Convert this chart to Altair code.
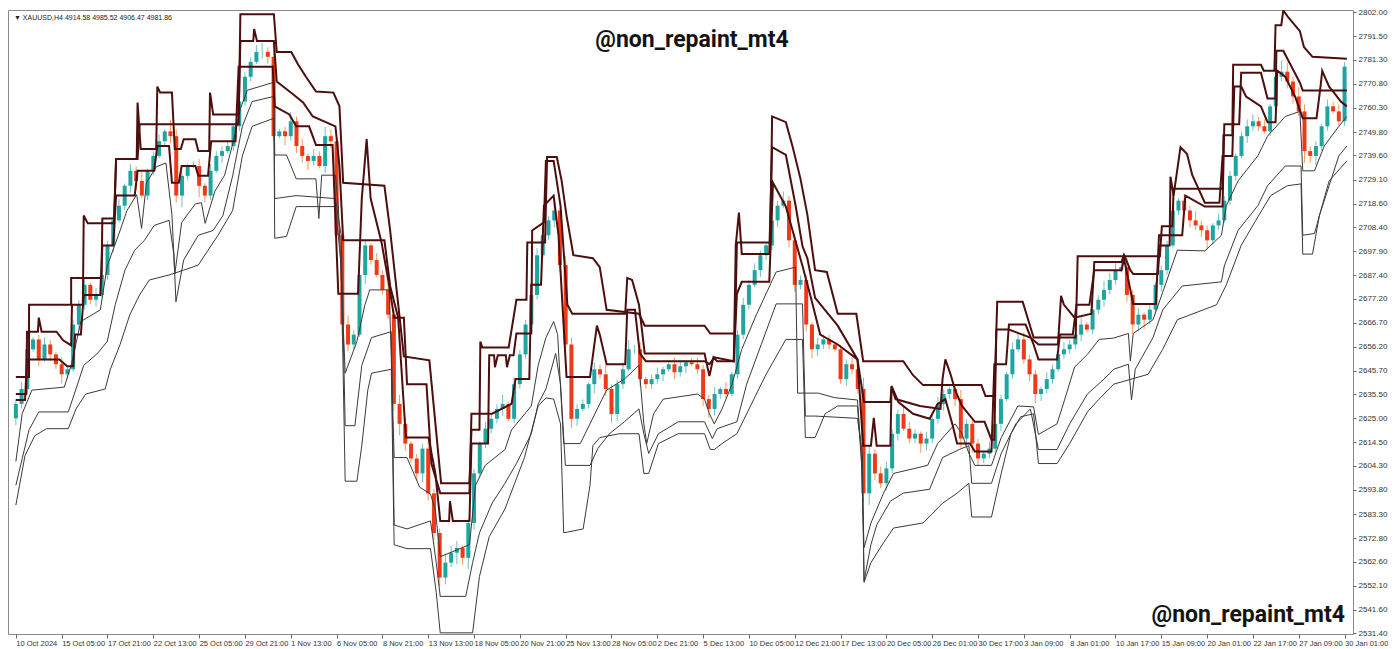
import altair as alt
import pandas as pd

# ---------------- data ----------------
first_open = 2625.0
closes = [
    2631.3, 2637.8, 2655.1, 2659.4, 2650.7, 2657.2, 2652.9, 2648.6,
    2644.2, 2646.4, 2665.9, 2674.5, 2683.2, 2676.7, 2678.8, 2687.5,
    2700.4, 2711.3, 2717.7, 2726.4, 2732.9, 2728.5, 2722.1, 2732.9,
    2739.4, 2745.8, 2750.1, 2748.0, 2722.1, 2730.7, 2735.0, 2735.0,
    2726.4, 2722.1, 2732.9, 2739.4, 2741.5, 2743.7, 2752.3, 2763.1,
    2773.9, 2780.4, 2784.7, 2784.7, 2782.6, 2748.0, 2750.1, 2748.0,
    2754.5, 2743.7, 2739.4, 2737.2, 2739.4, 2735.0, 2748.0, 2745.8,
    2704.8, 2665.9, 2657.2, 2661.5, 2687.5, 2700.4, 2694.0, 2687.5,
    2681.0, 2670.2, 2631.3, 2622.6, 2614.0, 2607.5, 2601.0, 2611.8,
    2592.3, 2575.0, 2555.6, 2562.1, 2566.4, 2568.5, 2564.2, 2579.4,
    2601.0, 2614.0, 2620.5, 2624.8, 2629.1, 2631.3, 2624.8, 2639.9,
    2652.9, 2665.9, 2678.8, 2696.1, 2704.8, 2711.3, 2715.6, 2691.8,
    2657.2, 2624.8, 2629.1, 2631.3, 2639.9, 2646.4, 2644.2, 2637.8,
    2626.9, 2639.9, 2646.4, 2655.1, 2655.1, 2642.1, 2639.9, 2642.1,
    2644.2, 2646.4, 2648.6, 2645.1, 2647.7, 2649.4, 2648.6, 2646.4,
    2633.4, 2629.1, 2635.6, 2637.8, 2635.6, 2644.2, 2661.5, 2674.5,
    2683.2, 2689.6, 2696.1, 2700.4, 2711.3, 2717.7, 2719.9, 2702.6,
    2683.2, 2685.3, 2665.9, 2655.1, 2657.2, 2659.4, 2657.2, 2655.1,
    2642.1, 2648.6, 2646.4, 2637.8, 2592.3, 2609.6, 2601.0, 2596.7,
    2603.2, 2618.3, 2626.9, 2620.5, 2616.2, 2618.3, 2614.0, 2616.2,
    2624.8, 2631.3, 2635.6, 2637.8, 2633.4, 2616.2, 2622.6, 2614.0,
    2607.5, 2609.6, 2611.8, 2622.6, 2633.4, 2644.2, 2655.1, 2659.4,
    2650.7, 2644.2, 2635.6, 2637.8, 2642.1, 2646.4, 2652.9, 2655.1,
    2657.2, 2661.5, 2665.9, 2663.7, 2672.4, 2676.7, 2681.0, 2685.3,
    2689.6, 2690.9, 2678.8, 2665.9, 2670.2, 2668.0, 2672.4, 2683.2,
    2689.6, 2700.4, 2715.6, 2719.9, 2715.6, 2711.3, 2709.1, 2707.0,
    2702.6, 2709.1, 2711.3, 2719.9, 2730.7, 2739.4, 2748.0, 2752.3,
    2754.5, 2752.3, 2750.1, 2761.0, 2773.9, 2776.1, 2771.8, 2765.3,
    2758.8, 2741.5, 2739.4, 2743.7, 2752.3, 2761.0, 2758.8, 2754.5,
    2778.3,
]
wick_up = ("23312321" "31223132" "22313241" "23153212" "31322213" "22342512"
           "42313243" "32423213" "23243122" "32243312" "21322413" "22133241"
           "43221324" "22342312" "31232123" "22313123" "23213242" "32213221"
           "22315323" "32243213" "23212422" "21322133" "32213223" "22312243"
           "32423121" "22313242" "21322123" "32312542" "43221323" "2")
wick_dn = ("32213132" "42132231" "23123412" "21233521" "53213122" "22133214"
           "23342133" "25321421" "22353234" "33432535" "32222312" "22121233"
           "24312423" "43212322" "23132312" "34322122" "21322313" "32343221"
           "23224532" "32312243" "22323434" "32223121" "23432212" "22312232"
           "21343422" "32122323" "42212213" "22123233" "25342212" "2")

# indicator lines: (bar index, price)
u1 = [(0,2643.0),(4.6,2643.0),(4.6,2674.5),(19.3,2674.5),(19.3,2686.2),(29.9,2686.2),(30.2,2712.1),(34.3,2712.1),
      (35.0,2738.1),(42.5,2738.1),(43.2,2753.2),(77.8,2753.2),(78.4,2801.2),(90.1,2801.2),(91.1,2784.7),(96.2,2784.7),
      (98.6,2779.1),(101.3,2773.9),(104.8,2767.5),(110.9,2767.0),(113.0,2761.0),(114.3,2727.7),(128.7,2726.4),
      (130.7,2706.9),(135.5,2652.0),(144.4,2650.3),(148.5,2596.7),(158.4,2596.7),(159.1,2620.0),(161.9,2620.0),
      (162.2,2658.5),(162.9,2655.9),(172.1,2655.9),(174.8,2676.7),(178.3,2676.7),(178.6,2701.7),(184.8,2701.7),
      (185.5,2738.9),(188.9,2738.9),(190.6,2728.5),(192.3,2713.4),(194.7,2696.1),(201.5,2694.8),(203.9,2690.9),
      (206.3,2672.3),(217.6,2670.6),(219.6,2665.4),(240.5,2665.4),(242.5,2662.0),(251.1,2662.0),(251.8,2701.7),
      (263.4,2701.7),(264.1,2756.6),(268.9,2754.1),(271.3,2743.2),(274.0,2729.4),(276.4,2713.8),(279.1,2689.6),
      (283.2,2688.8),(287.0,2670.6),(293.5,2670.6),(295.9,2649.9),(309.9,2649.9),(313.3,2643.8),(316.8,2639.5),
      (337.2,2639.5),(338.6,2634.7),(341.7,2634.7),(342.7,2675.8),(351.6,2675.8),(355.4,2660.2),(370.1,2660.2),
      (370.8,2695.7),(399.5,2695.7),(400.2,2708.7),(403.9,2708.7),(404.3,2725.1),(421.4,2725.1),(421.7,2748.4),
      (424.8,2748.4),(425.1,2779.1),(434.8,2779.1),(435.8,2776.5),(439.5,2776.5),(439.9,2796.4),(441.9,2796.4),
      (442.6,2802.8),(444.3,2799.9),(448.4,2793.8),(449.8,2786.9),(452.8,2782.6),(464.8,2781.7)]
u2 = [(0,2635.6),(3.6,2635.6),(3.9,2662.8),(7.7,2662.8),(8.0,2668.9),(9.0,2662.8),(14.2,2662.8),(16.5,2659.0),
      (19.3,2656.8),(19.6,2674.5),(23.4,2674.5),(23.7,2713.4),(25.1,2710.0),(34.3,2710.0),(35.0,2738.1),(42.2,2738.1),
      (42.5,2762.7),(43.6,2742.4),(49.0,2742.4),(49.4,2769.6),(50.4,2767.0),(54.5,2767.0),(55.5,2742.4),(57.6,2742.4),
      (58.6,2746.7),(62.7,2746.7),(63.7,2741.5),(67.5,2741.5),(67.8,2767.0),(68.9,2757.5),(77.8,2757.5),(78.4,2789.5),
      (82.9,2789.5),(83.2,2794.7),(84.2,2789.5),(90.1,2789.5),(91.1,2771.8),(96.9,2766.2),(100.3,2762.7),
      (103.7,2756.6),(111.6,2752.3),(113.0,2735.0),(114.3,2702.6),(128.7,2702.6),(130.7,2682.7),(133.5,2668.9),
      (136.2,2616.6),(144.1,2616.6),(146.5,2601.0),(148.2,2580.3),(151.3,2580.3),(151.6,2588.9),(152.6,2580.3),
      (158.4,2580.3),(159.1,2614.0),(164.9,2614.0),(165.3,2652.5),(167.0,2652.5),(167.3,2647.3),(168.3,2652.5),
      (171.1,2652.5),(171.5,2647.3),(172.5,2652.5),(173.8,2652.5),(174.8,2662.0),(180.0,2662.0),(180.3,2706.9),
      (184.4,2710.4),(185.1,2737.2),(187.8,2737.2),(190.2,2717.7),(192.6,2674.5),(194.3,2670.6),(212.8,2670.6),
      (213.5,2686.2),(215.2,2685.3),(217.6,2674.5),(219.6,2653.3),(240.5,2653.3),(242.2,2643.4),(243.6,2651.6),
      (244.9,2649.9),(250.7,2649.9),(251.4,2700.4),(252.5,2714.7),(253.5,2696.6),(263.1,2696.6),(264.1,2743.2),
      (268.9,2739.8),(272.3,2717.7),(274.7,2700.0),(276.4,2694.8),(279.1,2677.5),(287.0,2665.4),(293.9,2650.7),
      (296.2,2632.1),(305.4,2632.1),(305.8,2638.6),(307.2,2633.4),(315.7,2630.4),(322.9,2629.1),(323.6,2642.1),
      (324.6,2650.7),(326.4,2644.2),(328.0,2637.3),(330.4,2630.4),(334.9,2623.5),(338.3,2623.5),(340.7,2615.7),
      (341.7,2615.7),(342.4,2663.7),(346.8,2663.7),(354.3,2660.2),(357.1,2657.2),(363.9,2657.2),(365.0,2678.4),
      (366.0,2674.5),(369.7,2668.9),(375.6,2670.6),(376.6,2693.1),(386.1,2693.1),(386.8,2695.7),(388.5,2685.3),
      (390.2,2674.9),(398.1,2674.9),(399.2,2704.8),(407.3,2704.8),(408.4,2722.1),(415.2,2717.3),(421.4,2717.3),
      (422.0,2753.2),(427.2,2753.2),(427.9,2775.7),(434.8,2775.7),(437.1,2764.4),(439.9,2764.4),(440.2,2785.2),
      (442.6,2785.2),(448.4,2771.3),(449.4,2767.9),(464.8,2767.9)]
u3 = [(0,2633.0),(3.2,2633.0),(3.9,2650.7),(15.2,2650.7),(17.9,2647.7),(20.0,2647.7),(20.7,2661.5),(22.7,2661.5),
      (23.7,2678.8),(29.5,2678.8),(30.2,2700.4),(34.0,2700.4),(35.0,2722.1),(41.5,2722.1),(42.5,2732.9),(48.3,2732.9),
      (49.4,2743.7),(53.5,2743.7),(54.5,2727.7),(56.9,2727.7),(57.9,2735.0),(62.7,2735.0),(63.7,2730.7),(67.1,2730.7),
      (68.2,2745.8),(76.7,2745.8),(77.8,2778.3),(89.7,2778.3),(90.4,2761.0),(95.5,2757.5),(97.9,2752.3),(102.4,2752.3),
      (104.8,2744.1),(110.6,2744.1),(112.6,2679.3),(119.5,2679.3),(120.8,2720.8),(122.5,2746.7),(123.9,2720.8),
      (127.7,2701.7),(130.4,2682.7),(132.1,2668.9),(135.5,2668.9),(136.6,2639.9),(143.4,2639.9),(145.1,2605.3),
      (148.2,2592.4),(158.4,2592.4),(159.1,2627.0),(166.3,2627.0),(173.1,2631.3),(174.5,2642.1),(179.3,2642.1),
      (180.0,2683.2),(183.4,2683.2),(184.4,2717.7),(187.8,2722.1),(189.5,2704.8),(192.3,2643.0),(200.5,2643.0),
      (202.9,2665.4),(203.9,2661.5),(206.3,2648.6),(212.8,2648.6),(213.5,2672.3),(216.2,2672.3),(217.9,2653.3),
      (220.0,2649.9),(240.5,2649.9),(242.2,2648.6),(243.9,2651.6),(250.7,2649.9),(251.8,2679.3),(253.5,2684.5),
      (263.1,2684.5),(264.4,2727.7),(268.9,2717.3),(274.7,2691.4),(277.4,2678.8),(280.9,2661.5),(287.0,2657.2),
      (293.9,2650.7),(295.9,2613.1),(298.6,2613.1),(299.6,2625.2),(300.6,2613.1),(305.4,2613.1),(305.8,2639.1),
      (308.2,2632.1),(313.3,2627.0),(319.1,2624.8),(321.9,2631.3),(324.6,2633.4),(327.0,2622.6),(328.7,2614.0),
      (333.2,2614.0),(334.9,2610.5),(340.7,2610.5),(341.7,2648.6),(345.8,2648.6),(346.8,2665.9),(352.6,2665.9),
      (355.4,2657.2),(357.1,2650.7),(363.6,2650.7),(364.6,2661.5),(369.1,2661.5),(370.4,2674.5),(374.9,2674.5),
      (376.6,2689.6),(386.1,2689.6),(387.2,2695.7),(389.2,2689.6),(390.2,2687.9),(398.8,2687.9),(399.5,2700.4),
      (402.9,2700.4),(403.2,2730.3),(404.3,2722.1),(406.7,2743.2),(409.0,2740.2),(410.8,2731.1),(415.2,2719.0),
      (420.3,2719.0),(421.4,2739.4),(424.8,2739.4),(425.5,2769.6),(427.9,2769.6),(429.6,2765.3),(434.8,2761.0),
      (437.1,2754.1),(439.9,2754.1),(440.5,2776.5),(443.3,2773.9),(446.7,2765.3),(449.4,2755.8),(454.2,2755.8),
      (455.6,2769.6),(456.2,2776.5),(458.6,2769.6),(460.3,2767.0),(462.7,2763.1),(464.8,2761.0)]
l1 = [(0,2606.2),(2.2,2627.0),(5.6,2637.3),(16.9,2638.6),(19.3,2648.1),(22.7,2667.2),(29.5,2672.3),(31.9,2691.4),
      (36.4,2706.9),(38.8,2715.6),(42.2,2722.5),(43.9,2707.8),(45.6,2727.7),(49.0,2734.6),(52.4,2736.3),(54.5,2713.8),
      (55.5,2687.9),(57.9,2710.4),(62.7,2718.5),(64.8,2719.0),(66.1,2710.0),(69.5,2724.0),(72.9,2731.0),(76.4,2748.0),
      (78.4,2760.0),(80.8,2768.0),(90.1,2771.5),(90.4,2739.8),(94.5,2739.8),(97.9,2729.4),(104.8,2729.4),(105.8,2712.1),
      (106.8,2731.0),(111.6,2731.0),(112.6,2717.7),(115.0,2644.7),(119.1,2658.5),(121.9,2674.5),(123.6,2681.0),
      (130.4,2681.0),(132.1,2607.9),(136.6,2607.9),(141.0,2595.0),(144.8,2592.0),(146.5,2585.0),(148.2,2564.7),
      (158.4,2569.9),(160.5,2595.8),(163.9,2604.5),(170.8,2611.4),(173.1,2620.0),(180.0,2630.4),(182.4,2648.1),
      (185.1,2660.2),(187.8,2667.2),(189.2,2661.5),(191.3,2614.0),(197.1,2614.0),(200.5,2622.6),(203.9,2631.3),
      (206.3,2637.3),(212.5,2642.1),(217.6,2648.1),(219.3,2622.6),(220.3,2614.0),(222.7,2627.0),(226.1,2633.4),
      (238.1,2635.6),(240.5,2633.4),(242.2,2627.0),(243.9,2622.6),(246.6,2629.1),(250.1,2639.9),(253.5,2655.1),
      (258.6,2670.2),(265.5,2688.8),(272.3,2690.9),(273.0,2636.0),(280.2,2636.0),(286.0,2634.0),(293.9,2633.0),
      (295.2,2610.0),(296.2,2568.6),(298.6,2579.4),(303.0,2592.4),(306.5,2601.0),(318.4,2604.5),(321.9,2614.0),
      (328.0,2622.6),(330.4,2618.3),(332.8,2609.7),(334.9,2604.5),(340.7,2604.5),(344.1,2616.6),(349.9,2630.4),
      (355.4,2630.0),(357.1,2618.0),(363.6,2622.6),(366.3,2633.4),(369.7,2647.3),(374.2,2652.9),(378.3,2659.4),
      (383.4,2660.0),(388.5,2662.0),(389.2,2650.0),(390.2,2662.0),(397.1,2668.0),(400.5,2680.0),(405.6,2698.3),
      (415.2,2698.0),(421.0,2704.8),(422.7,2717.7),(426.8,2728.5),(433.7,2739.4),(437.1,2748.0),(443.3,2756.6),
      (448.4,2758.8),(449.4,2732.9),(453.5,2732.9),(456.9,2743.7),(462.0,2752.3),(464.8,2756.6)]
l2 = [(0,2595.8),(4.6,2620.0),(8.0,2627.8),(18.3,2627.8),(21.0,2637.8),(23.7,2648.1),(28.5,2653.3),(31.9,2658.5),
      (34.7,2674.5),(38.1,2689.6),(41.5,2698.3),(44.9,2702.6),(48.3,2709.1),(53.5,2711.3),(55.2,2696.1),(55.9,2675.8),
      (58.6,2694.0),(63.7,2704.8),(68.9,2706.9),(72.3,2713.4),(75.7,2730.7),(79.1,2752.3),(82.5,2763.1),(90.1,2765.3),
      (90.4,2720.8),(97.9,2722.1),(111.6,2720.8),(113.6,2704.8),(115.0,2621.8),(118.4,2621.8),(120.8,2648.1),
      (124.2,2660.2),(131.1,2662.8),(132.1,2578.5),(136.6,2576.8),(144.8,2580.3),(146.8,2562.1),(148.2,2547.4),
      (157.1,2547.4),(159.5,2562.1),(161.9,2575.1),(166.3,2588.0),(170.8,2596.7),(174.8,2605.3),(180.0,2618.3),
      (182.4,2631.3),(185.1,2637.8),(188.5,2653.3),(190.2,2639.9),(191.9,2604.5),(200.5,2604.5),(203.2,2611.8),
      (207.3,2618.3),(212.5,2623.5),(217.6,2629.1),(219.3,2618.3),(221.0,2609.7),(224.4,2618.3),(231.3,2623.5),
      (240.5,2623.5),(243.2,2616.2),(244.9,2620.5),(251.8,2623.5),(255.2,2639.9),(260.3,2657.2),(265.5,2674.9),
      (274.7,2674.9),(275.7,2626.0),(279.1,2626.0),(293.9,2625.0),(295.6,2609.7),(296.2,2554.3),(298.6,2569.9),
      (300.6,2578.5),(305.4,2588.9),(309.9,2592.4),(319.1,2594.1),(323.6,2607.9),(329.4,2611.4),(332.8,2613.1),
      (333.8,2596.7),(340.7,2596.7),(344.1,2609.7),(349.2,2622.6),(354.3,2629.1),(357.1,2611.4),(363.6,2611.4),
      (368.0,2622.6),(374.2,2635.6),(380.0,2642.1),(383.4,2646.4),(388.5,2648.6),(389.6,2633.0),(390.9,2646.4),
      (397.1,2660.2),(400.5,2672.3),(407.3,2682.7),(421.0,2684.5),(422.0,2691.4),(426.8,2706.9),(433.7,2717.7),
      (437.1,2726.4),(443.3,2735.0),(448.8,2735.0),(449.4,2704.8),(453.5,2705.6),(458.6,2728.5),(464.8,2737.2)]
l3 = [(0,2587.2),(3.2,2608.8),(6.6,2617.4),(10.7,2620.5),(18.3,2620.5),(21.0,2629.1),(24.4,2635.6),(31.2,2637.8),
      (33.0,2646.4),(36.4,2657.2),(39.8,2670.2),(43.2,2678.8),(46.6,2685.3),(53.5,2687.5),(58.6,2689.6),(63.7,2691.8),
      (67.1,2698.3),(70.6,2704.8),(75.7,2715.6),(79.1,2739.4),(82.5,2752.3),(90.1,2755.8),(90.4,2703.5),(94.5,2704.3),
      (97.9,2717.3),(111.6,2717.3),(113.6,2691.8),(115.0,2597.6),(119.1,2597.6),(120.8,2613.1),(122.9,2637.3),
      (124.2,2644.7),(131.1,2646.4),(132.1,2569.9),(136.6,2568.2),(144.8,2568.2),(146.8,2549.1),(148.2,2531.5),
      (159.5,2531.5),(161.9,2556.1),(165.3,2573.4),(170.8,2585.5),(177.6,2607.9),(182.4,2630.4),(185.1,2633.9),
      (187.8,2633.4),(190.2,2622.6),(191.3,2575.1),(198.1,2576.8),(200.5,2595.8),(201.5,2613.1),(203.9,2616.6),
      (210.7,2618.3),(217.6,2618.3),(219.3,2601.0),(221.0,2601.0),(224.4,2614.0),(231.3,2618.3),(240.5,2618.3),
      (242.5,2611.4),(243.9,2611.4),(246.6,2614.0),(251.8,2618.3),(256.9,2631.3),(262.0,2644.2),(268.9,2659.4),
      (274.7,2659.4),(275.7,2616.6),(279.1,2616.6),(282.6,2627.0),(287.0,2630.4),(293.9,2630.4),(295.6,2601.0),
      (296.2,2553.5),(298.6,2562.1),(303.0,2570.8),(306.5,2577.2),(316.8,2579.4),(323.6,2588.0),(328.7,2592.4),
      (332.8,2596.7),(333.8,2582.0),(340.7,2582.0),(344.1,2601.0),(347.5,2618.3),(350.9,2625.7),(355.4,2627.0),
      (357.1,2605.3),(363.6,2605.3),(368.0,2614.0),(374.2,2627.8),(378.3,2633.4),(383.4,2639.9),(395.4,2644.2),
      (400.5,2655.1),(405.6,2668.0),(419.3,2674.5),(422.7,2683.2),(427.9,2700.4),(433.0,2711.3),(438.2,2722.1),
      (444.0,2726.4),(448.8,2727.2),(449.4,2696.6),(452.8,2696.6),(455.2,2713.4),(458.6,2726.4),(462.0,2739.4),
      (464.8,2743.7)]

date_labels = ["10 Oct 2024", "15 Oct 05:00", "17 Oct 21:00", "22 Oct 13:00", "25 Oct 05:00",
               "29 Oct 21:00", "1 Nov 13:00", "6 Nov 05:00", "8 Nov 21:00", "13 Nov 13:00",
               "18 Nov 05:00", "20 Nov 21:00", "25 Nov 13:00", "28 Nov 05:00", "2 Dec 21:00",
               "5 Dec 13:00", "10 Dec 05:00", "12 Dec 21:00", "17 Dec 13:00", "20 Dec 05:00",
               "26 Dec 01:00", "30 Dec 17:00", "3 Jan 09:00", "8 Jan 01:00", "10 Jan 17:00",
               "15 Jan 09:00", "20 Jan 01:00", "22 Jan 17:00", "27 Jan 09:00", "30 Jan 01:00"]
date_tick_bars = [16 * k for k in range(len(date_labels))]
price_ticks = [2531.4, 2541.6, 2552.1, 2562.6, 2572.8, 2583.3, 2593.8, 2604.3, 2614.5,
               2625.0, 2635.5, 2645.7, 2656.2, 2666.7, 2677.2, 2687.4, 2697.9, 2708.4,
               2718.6, 2729.1, 2739.6, 2749.8, 2760.3, 2770.8, 2781.3, 2791.5, 2802.0]
header_text = "\u25bc XAUUSD,H4  4914.58 4985.52 4906.47 4981.86"
watermark = "@non_repaint_mt4"

# ---------------- tables ----------------
opens = [first_open] + closes[:-1]
rows = []
for k, (o, c, u, d) in enumerate(zip(opens, closes, wick_up, wick_dn)):
    rows.append(dict(bar=2 * k, open=o, close=c,
                     high=max(o, c) + int(u), low=min(o, c) - int(d)))
cdf = pd.DataFrame(rows)

def line_rows(name, pts):
    return [dict(line=name, i=i, bar=b, price=p) for i, (b, p) in enumerate(pts)]

upper_df = pd.DataFrame(line_rows("u1", u1) + line_rows("u2", u2) + line_rows("u3", u3))
lower_df = pd.DataFrame(line_rows("l1", l1) + line_rows("l2", l2) + line_rows("l3", l3))

# ---------------- chart ----------------
W, H = 1345, 624
label_js = "[" + ",".join("'" + s + "'" for s in date_labels) + "]"
xscale = alt.Scale(domain=[-1.0, 465.2], nice=False, zero=False)
yscale = alt.Scale(domain=[2531.0, 2803.0], nice=False, zero=False)
xaxis = alt.Axis(values=date_tick_bars, labelExpr=label_js + "[round(datum.value/16)]",
                 labelAlign="left", labelFontSize=7.5, labelColor="#333333", labelFont="Liberation Sans",
                 tickSize=4, tickColor="#666666", domain=False, grid=False, labelPadding=1,
                 labelFlush=False, labelOverlap=False, labelBound=False)
yaxis = alt.Axis(values=price_ticks, format=".2f", orient="right", labelFontSize=8,
                 labelColor="#333333", labelFont="Liberation Sans", tickSize=3, tickColor="#666666",
                 domain=False, grid=False, labelPadding=2, labelOverlap=False, labelFlush=False)

X = alt.X("bar:Q", scale=xscale, axis=xaxis, title=None)

is_up = "datum.close >= datum.open"
wicks = alt.Chart(cdf).mark_rule(strokeWidth=1, clip=True).encode(
    x=X,
    y=alt.Y("low:Q", scale=yscale, axis=yaxis, title=None),
    y2="high:Q",
    color=alt.condition(is_up, alt.value("#74c0bc"), alt.value("#f19a5c")),
)
bodies = alt.Chart(cdf).mark_bar(size=4, clip=True).encode(
    x=X,
    y=alt.Y("open:Q", scale=yscale, axis=yaxis, title=None),
    y2="close:Q",
    color=alt.condition(is_up, alt.value("#1fa5a0"), alt.value("#ee3a17")),
)
lower = alt.Chart(lower_df).mark_line(strokeWidth=1, color="#3a3a3a", clip=True).encode(
    x=X,
    y=alt.Y("price:Q", scale=yscale, axis=yaxis, title=None),
    detail="line:N",
    order=alt.Order("i:Q"),
)
upper = alt.Chart(upper_df).mark_line(strokeWidth=2, color="#4d0e0e", clip=True).encode(
    x=X,
    y=alt.Y("price:Q", scale=yscale, axis=yaxis, title=None),
    detail="line:N",
    order=alt.Order("i:Q"),
)
hdr = alt.Chart(pd.DataFrame({"t": [header_text]})).mark_text(
    align="left", baseline="middle", fontSize=7, font="Liberation Sans", color="#222222"
).encode(text="t:N", x=alt.value(6), y=alt.value(8))
wm_top = alt.Chart(pd.DataFrame({"t": [watermark]})).mark_text(
    align="center", baseline="middle", fontSize=23, font="Roboto", fontWeight="bold", color="#141414"
).encode(text="t:N", x=alt.value(684), y=alt.value(30))
wm_bot = alt.Chart(pd.DataFrame({"t": [watermark]})).mark_text(
    align="right", baseline="middle", fontSize=23, font="Roboto", fontWeight="bold", color="#141414"
).encode(text="t:N", x=alt.value(W - 8), y=alt.value(605))

chart = alt.layer(wicks, bodies, lower, upper, hdr, wm_top, wm_bot).properties(
    width=W, height=H, padding=0, background="white"
).configure_view(stroke="#8a8a8a", strokeWidth=1)

chart.save("out.html", embed_options={"renderer": "svg", "actions": False})
